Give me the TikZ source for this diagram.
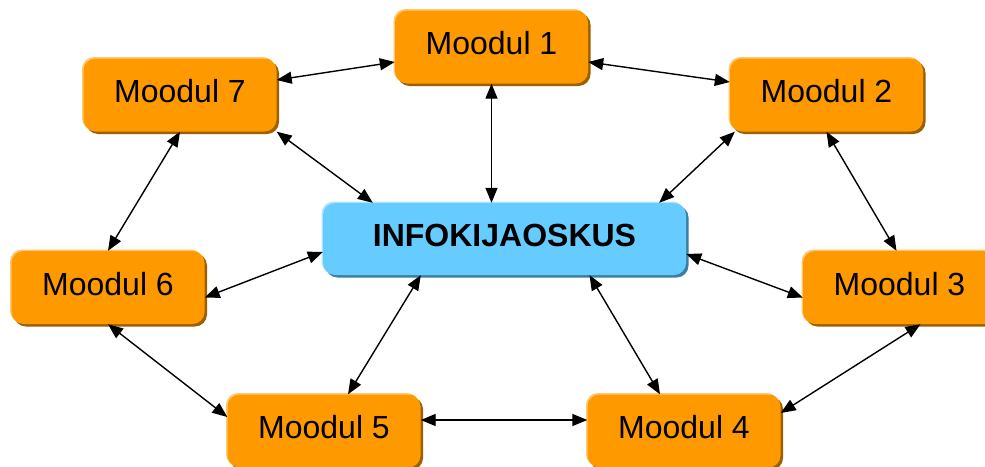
\documentclass[tikz,border=0pt]{standalone}
\usepackage{fontspec}
\setmainfont{Liberation Sans}
\usetikzlibrary{arrows.meta,shadows}

\definecolor{modfill}{HTML}{FF9900}
\definecolor{modlight}{HTML}{FFC870}
\definecolor{moddark}{HTML}{9C6000}
\definecolor{hubfill}{HTML}{66CCFF}
\definecolor{hublight}{HTML}{B0E4FF}
\definecolor{hubdark}{HTML}{3A7FA3}

\tikzset{
  bevelbox/.style n args={3}{
    rectangle, rounded corners=12pt, fill=#1, draw=none,
    general shadow={fill=#3, shadow xshift=2.5pt, shadow yshift=-2.5pt},
    general shadow={fill=#2, shadow xshift=-1.5pt, shadow yshift=1.5pt},
    inner sep=0pt, text depth=8pt, font=\fontsize{32}{37}\selectfont
  },
  modbox/.style={bevelbox={modfill}{modlight}{moddark},
    minimum width=193pt, minimum height=73pt},
  hubbox/.style={bevelbox={hubfill}{hublight}{hubdark},
    minimum width=363pt, minimum height=72pt, font=\fontsize{32}{37}\selectfont\bfseries},
  link/.style={line width=1.4pt, {Triangle[length=15pt,width=12pt]}-{Triangle[length=15pt,width=12pt]}}
}

\begin{document}
\begin{tikzpicture}[x=1pt,y=-1pt]
  \clip (0,0) rectangle (985,466);
  \fill[white] (0,0) rectangle (985,466);

  % modules arranged round the central hub
  \node[modbox] (m1) at (491.5,47)  {Moodul 1};
  \node[modbox] (m2) at (826.5,95)  {Moodul 2};
  \node[modbox] (m3) at (899.5,287.5) {Moodul 3};
  \node[modbox] (m4) at (684,431)   {Moodul 4};
  \node[modbox] (m5) at (324,431)   {Moodul 5};
  \node[modbox] (m6) at (108,287.5) {Moodul 6};
  \node[modbox] (m7) at (180,95)    {Moodul 7};
  \node[hubbox] (info) at (504.5,239) {INFOKIJAOSKUS};

  % ring of neighbouring modules
  \draw[link] ([yshift=15pt]m7.east) -- ([yshift=-15pt]m1.west);
  \draw[link] ([yshift=-15pt]m1.east) -- ([yshift=13pt]m2.west);
  \draw[link] (m7.south) -- (m6.north);
  \draw[link] (m2.south) -- ([xshift=-3pt]m3.north);
  \draw[link] (m6.south) -- ([yshift=14pt]m5.west);
  \draw[link] ([xshift=21pt]m3.south) -- ([yshift=18pt]m4.east);
  \draw[link] ([yshift=11pt]m5.east) -- ([yshift=11pt]m4.west);

  % spokes to the hub
  \draw[link] (m1.south) -- (m1.south |- info.north);
  \draw[link] (m7.south east) -- ([xshift=50pt]info.north west);
  \draw[link] ([xshift=5pt]m2.south west) -- ([xshift=-27pt]info.north east);
  \draw[link] ([yshift=-10pt]m6.east) -- ([yshift=-13pt]info.west);
  \draw[link] ([yshift=-15pt]info.east) -- ([yshift=-10pt]m3.west);
  \draw[link] ([xshift=98pt]info.south west) -- ([xshift=24pt]m5.north);
  \draw[link] ([xshift=85pt]info.south) -- ([xshift=-24pt]m4.north);
\end{tikzpicture}
\end{document}
